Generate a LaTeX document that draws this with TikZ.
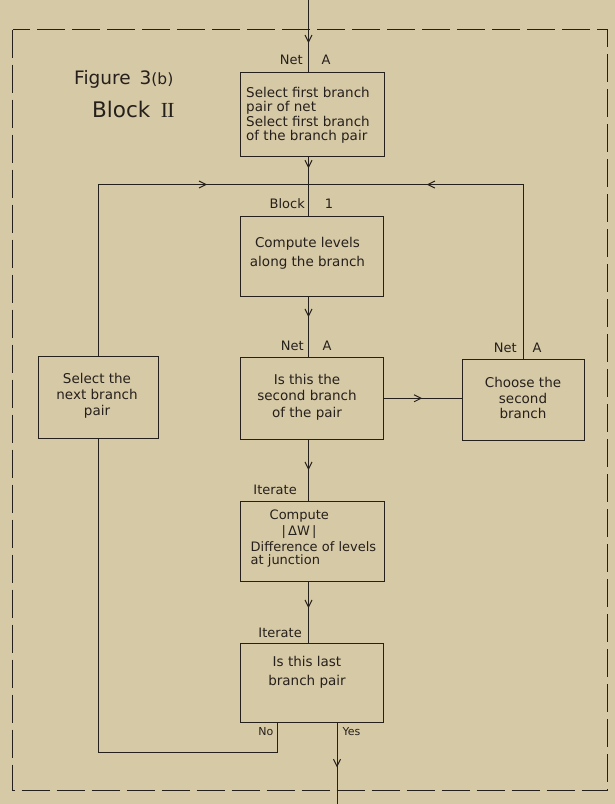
\documentclass[tikz,border=0pt]{standalone}
\usepackage{fontspec}
\setmainfont{DejaVu Sans}
\newfontfamily\numeralfont{Liberation Serif}
\usetikzlibrary{arrows.meta,decorations.markings}

\definecolor{paper}{RGB}{214,201,166}
\definecolor{ink}{RGB}{38,32,28}

\tikzset{
  box/.style={draw=ink, line width=1pt, rectangle, inner sep=0pt},
  wire/.style={color=ink, line width=0.95pt},
  tip at/.style={postaction={decorate},
    decoration={markings, mark=at position #1 with {\arrow{Straight Barb[length=7pt,width=7pt,line width=1pt]}}}},
  boxtext/.style={text=ink, inner sep=0pt, align=center},
  tag/.style={text=ink, inner sep=0pt, font=\fontsize{13}{14}\selectfont},
  smalltag/.style={text=ink, inner sep=0pt, font=\fontsize{11}{12}\selectfont},
}

\begin{document}
\begin{tikzpicture}[x=1pt,y=-1pt]
  % sheet
  \fill[paper] (0,0) rectangle (615,804);
  \useasboundingbox (0,0) rectangle (615,804);

  % dashed outline of the block
  \draw[ink, line width=0.8pt, dash pattern=on 28pt off 7pt] (12.5,29.5) rectangle (607.5,790.5);

  % title
  \node[text=ink, inner sep=0pt, anchor=west, font=\fontsize{18.5}{20}\selectfont] (fig) at (74,79)
    {Figure\ \,3{\fontsize{15.5}{15}\selectfont(b)}};
  \node[text=ink, inner sep=0pt, anchor=west, font=\fontsize{21.5}{24}\selectfont] (blockii) at (92,109)
    {Block\ \,{\numeralfont I\kern-0.6ptI}};

  % boxes
  \node[box, minimum width=144pt, minimum height=83.5pt] (b1) at (312,114.25) {};
  \node[box, minimum width=143.5pt, minimum height=80pt] (b2) at (311.75,256) {};
  \node[box, minimum width=143.5pt, minimum height=81.5pt] (b3) at (311.75,398.25) {};
  \node[box, minimum width=120pt, minimum height=82pt] (lb) at (98.5,397) {};
  \node[box, minimum width=122pt, minimum height=81pt] (rb) at (523.5,399.5) {};
  \node[box, minimum width=144pt, minimum height=80pt] (b4) at (312,541) {};
  \node[box, minimum width=143pt, minimum height=79pt] (b5) at (311.5,682.5) {};

  % box texts
  \node[boxtext, align=left, anchor=west, font=\fontsize{13.5}{14.5}\selectfont] (t1) at (246,115.5)
    {Select first branch\\pair of net\\Select first branch\\of the branch pair};
  \node[boxtext, font=\fontsize{13.5}{19}\selectfont] (t2) at (307.5,253)
    {Compute levels\\along the branch};
  \node[boxtext, font=\fontsize{13.5}{16.5}\selectfont] (t3) at (307,397)
    {Is this the\\second branch\\of the pair};
  \node[boxtext, font=\fontsize{13.5}{16}\selectfont] (tl) at (97,396)
    {Select the\\next branch\\pair};
  \node[boxtext, font=\fontsize{13.5}{15.5}\selectfont] (tr) at (523,398)
    {Choose the\\second\\branch};
  \node[boxtext, align=left, anchor=north west, font=\fontsize{13}{16}\selectfont] (t4) at (250.5,510)
    {\hspace*{19pt}Compute\\\hspace*{31pt}|\,ΔW\,|\\Difference of levels\\[-3pt]at junction};
  \node[boxtext, font=\fontsize{13.5}{19}\selectfont] (t5) at (307,672.5)
    {Is this last\\branch pair};

  % spine coordinates
  \coordinate (in) at (308.5,0);
  \coordinate (spine) at (308.5,184.5);
  \coordinate (out) at (337,804);
  \coordinate (noturn) at (277,752.5);

  % connectors
  \draw[wire, tip at=0.6] (in) -- (in |- b1.north);
  \draw[wire, tip at=0.2] (b1.south -| in) -- (b2.north -| in);
  \draw[wire, tip at=0.734] (lb.north) |- (spine);
  \draw[wire, tip at=0.696] (rb.north) |- (spine);
  \draw[wire, tip at=0.34] (b2.south -| in) -- (b3.north -| in);
  \draw[wire, tip at=0.49] (b3.east) -- (b3.east -| rb.west);
  \draw[wire, tip at=0.5] (b3.south -| in) -- (b4.north -| in);
  \draw[wire, tip at=0.435] (b4.south -| in) -- (b5.north -| in);
  \draw[wire, tip at=0.55] (b5.south -| out) -- (out);
  \draw[wire] (b5.south -| noturn) -- (noturn) -| (lb.south);

  % line labels
  \node[tag, anchor=east] (net1) at (303,60) {Net};
  \node[tag] (a1) at (326,60) {A};
  \node[tag, anchor=east] (blk) at (305,204) {Block};
  \node[tag] (one) at (329,204) {1};
  \node[tag, anchor=east] (net2) at (304,346) {Net};
  \node[tag] (a2) at (327,346) {A};
  \node[tag, anchor=east] (net3) at (517,348) {Net};
  \node[tag] (a3) at (537,348) {A};
  \node[tag, anchor=east] (it1) at (297,490) {Iterate};
  \node[tag, anchor=east] (it2) at (302,633) {Iterate};
  \node[smalltag, anchor=east] (nolbl) at (273.5,732) {No};
  \node[smalltag, anchor=west] (yeslbl) at (342.5,732) {Yes};
\end{tikzpicture}
\end{document}
